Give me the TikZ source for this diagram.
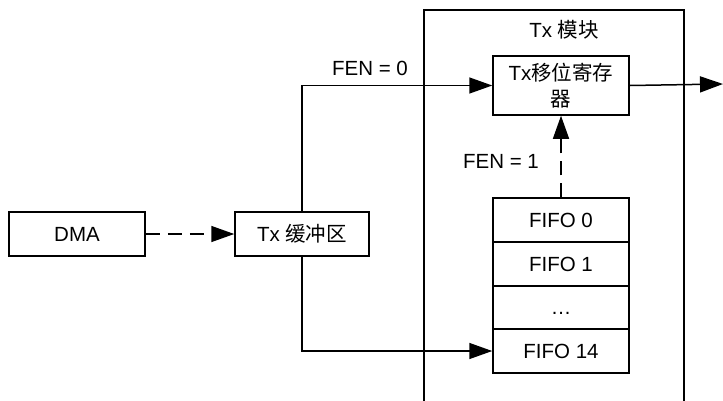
\documentclass[tikz,border=0pt]{standalone}
\usepackage{fontspec}
\setmainfont{Liberation Sans}
\newfontfamily\cjk{Noto Sans CJK SC}
\usetikzlibrary{arrows.meta}
\begin{document}
\begin{tikzpicture}[x=1pt,y=-1pt,
  every node/.style={font=\fontsize{20.5}{26}\selectfont},
  box/.style={draw,line width=1.5pt,minimum width=136pt,inner sep=0pt,align=center},
  conn/.style={line width=1.5pt,-{Triangle[length=23pt,width=16pt]}},
  dashconn/.style={conn,dash pattern=on 14pt off 8pt},
  lbl/.style={inner sep=0pt}]
\useasboundingbox (0,0) rectangle (723,400);
% module container
\draw[line width=1.5pt] (424,402) |- (684,10) -- (684,402);
\node[lbl] (modlbl) at (564,30) {Tx {\cjk 模块}};
% boxes
\node[box,minimum height=44pt] (dma) at (77,234) {DMA};
\node[box,minimum width=134pt,minimum height=44pt] (buf) at (302,234) {Tx {\cjk 缓冲区}};
\node[box,minimum height=59pt] (reg) at (561,85.5) {Tx{\cjk 移位寄存}\\{\cjk 器}};
\node[box,minimum height=44pt] (f0) at (561,220) {FIFO 0};
\node[box,minimum height=44pt] (f1) at (561,264) {FIFO 1};
\node[box,minimum height=43pt] (fd) at (561,307.5) {\vphantom{FIFO}…};
\node[box,minimum height=44pt] (f14) at (561,351) {FIFO 14};
\coordinate (out) at (723,84);
% labels
\node[lbl] (fen0) at (370,68) {FEN = 0};
\node[lbl] (fen1) at (501,161) {FEN = 1};
% connectors
\draw[dashconn] (dma.east) -- (buf.west);
\draw[conn] (buf.north) |- (reg.west);
\draw[conn] (buf.south) |- (f14.west);
\draw[dashconn] (f0.north) -- (reg.south);
\draw[conn] (reg.east) -- (out);
\end{tikzpicture}
\end{document}
